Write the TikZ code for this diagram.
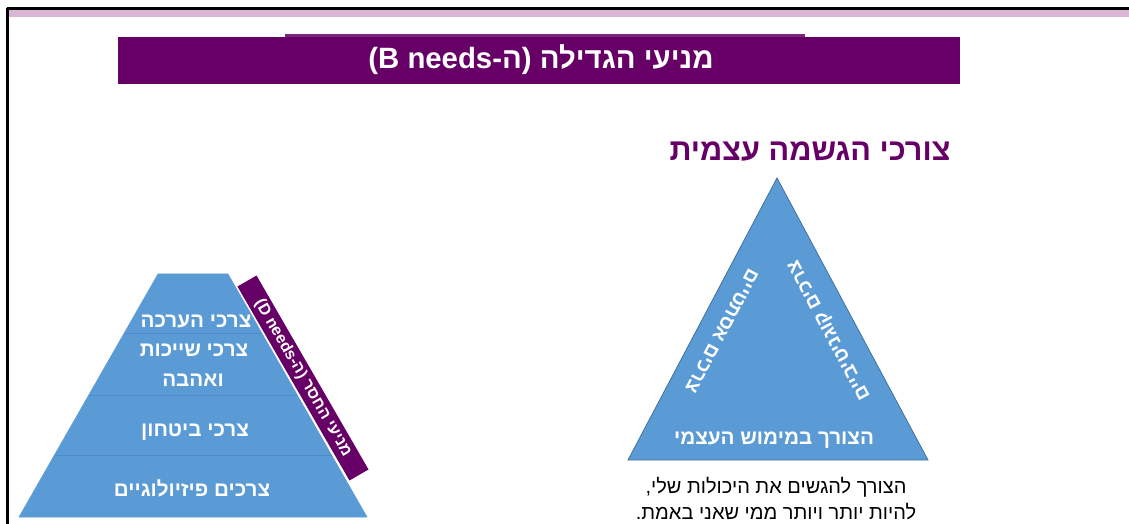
\documentclass[tikz,border=0pt]{standalone}
\usepackage{fontspec}
\setmainfont{Liberation Sans}
\newfontfamily\hebfont[Script=Hebrew]{Liberation Sans}
\TeXXeTstate=1
\usetikzlibrary{positioning}

\definecolor{grapepurple}{RGB}{102,0,102}
\definecolor{pyrblue}{RGB}{91,155,213}
\definecolor{pyredge}{RGB}{65,113,156}
\definecolor{tierline}{RGB}{78,138,196}
\definecolor{framepink}{RGB}{216,182,212}

\newcommand{\heb}[1]{\beginR #1\endR}

\tikzset{
  tiertext/.style={text=white, inner sep=0.75pt, font=\hebfont\bfseries\fontsize{15.5}{18}\selectfont},
  sidetext/.style={text=white, inner sep=0.75pt, font=\hebfont\bfseries\fontsize{14.5}{16}\selectfont},
  dband/.style={fill=grapepurple, text=white, inner sep=0pt, font=\hebfont\bfseries\fontsize{12}{14}\selectfont},
}

\begin{document}
\begin{tikzpicture}[x=0.75pt,y=0.75pt,yscale=-1,xscale=1]
    \useasboundingbox (0,0) rectangle (1129,524);
    \fill [white] (0,0) rectangle (1129,524);

    % frame of the slide
    \fill [framepink] (8,10) rectangle (1129,17);
    \draw [line width=2.25]    (6.5,8.5) -- (1129,8.5) ;
    \draw [line width=2.25]    (7.5,8) -- (7.5,524) ;

    % title bar
    \fill [grapepurple] (118,37) rectangle (960,84);
    \fill [grapepurple!85] (285,34.5) rectangle (805,37);
    \node [text=white, inner sep=0.75pt, font=\hebfont\bfseries\fontsize{22}{26}\selectfont] (title) at (541,60) {\heb{מניעי הגדילה (ה-\beginL B needs\endL)}};

    % triangle of the B needs
    \coordinate (apex) at (777,178);
    \coordinate (tribr) at (928,460);
    \coordinate (tribl) at (628,460);
    \draw [fill=pyrblue, draw=pyredge, line width=0.6] (apex) -- (tribr) -- (tribl) -- cycle;
    \node [text=grapepurple, inner sep=0.75pt, font=\hebfont\bfseries\fontsize{23}{27}\selectfont] (selfhead) at (810,152) {\heb{צורכי הגשמה עצמית}};
    \node [sidetext, rotate=-118] (aesth) at (722,331) {\heb{צרכים אסתטיים}};
    \node [sidetext, rotate=118] (cogn) at (830,330) {\heb{צרכים קוגניטיביים}};
    \node [sidetext, font=\hebfont\bfseries\fontsize{15.5}{18}\selectfont] (actual) at (774,440) {\heb{הצורך במימוש העצמי}};
    \node [inner sep=0.75pt, align=center, font=\hebfont\fontsize{15}{19.5}\selectfont] (actualtxt) at (776,499) {\heb{הצורך להגשים את היכולות שלי,}\\\heb{להיות יותר ויותר ממי שאני באמת.}};

    % pyramid of the D needs
    \draw [fill=pyrblue, draw=pyrblue] (158,274) -- (228,274) -- (367,517) -- (19,517) -- cycle;
    \draw [tierline, line width=0.75]    (124.3,333) -- (261.7,333) ;
    \draw [tierline, line width=0.75]    (88.8,395) -- (297.2,395) ;
    \draw [tierline, line width=0.75]    (54.5,455) -- (331.5,455) ;
    \node [tiertext] (esteem) at (196,321) {\heb{צרכי הערכה}};
    \node [tiertext] (belong) at (194,350) {\heb{צרכי שייכות}};
    \node [tiertext] (love) at (193,380) {\heb{ואהבה}};
    \node [tiertext] (safety) at (195,432) {\heb{צרכי ביטחון}};
    \node [tiertext] (physio) at (192,488) {\heb{צרכים פיזיולוגיים}};
    \node [dband, rotate=-60, minimum width=168pt, minimum height=16.5pt] (dneeds) at (303,378) {\heb{מניעי החסר (ה-\beginL D needs\endL)}};
\end{tikzpicture}
\end{document}
